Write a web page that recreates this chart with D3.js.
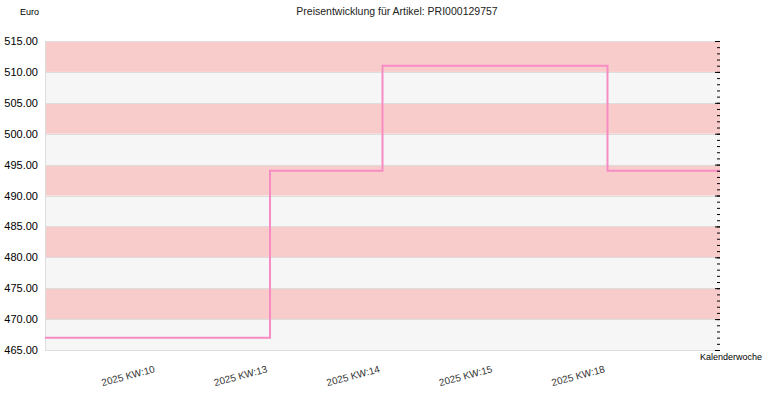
<!DOCTYPE html>
<html>
<head>
<meta charset="utf-8">
<script src="https://cdn.jsdelivr.net/npm/d3@7"></script>
<style>
  body { margin: 0; background: #fff; }
  text { font-family: "Liberation Sans", Arial, sans-serif; }
</style>
</head>
<body>
<div id="chart"></div>
<script>
// data
var weeks = ["2025 KW:10", "2025 KW:13", "2025 KW:14", "2025 KW:15", "2025 KW:18"];
var prices = [467, 494, 511, 511, 494];
var yTicks = [465, 470, 475, 480, 485, 490, 495, 500, 505, 510, 515];

var svgWidth = 770;
var svgHeight = 400;

var margin = { top: 41, right: 50, bottom: 50, left: 45 };
var width = svgWidth - margin.left - margin.right;
var height = svgHeight - margin.top - margin.bottom;

var svg = d3.select("#chart")
  .append("svg")
  .attr("width", svgWidth)
  .attr("height", svgHeight);

var chartGroup = svg.append("g")
  .attr("transform", `translate(${margin.left}, ${margin.top})`);

// one slot before the first week and one after the last
var xScale = d3.scaleLinear()
  .domain([0, weeks.length + 1])
  .range([0, width]);

var yScale = d3.scaleLinear()
  .domain([465, 515])
  .range([height, 0]);

// alternating bands
var bands = d3.pairs(yTicks);
chartGroup.selectAll(".band")
  .data(bands)
  .enter()
  .append("rect")
  .attr("class", "band")
  .attr("x", 0)
  .attr("width", width)
  .attr("y", d => yScale(d[1]))
  .attr("height", d => yScale(d[0]) - yScale(d[1]))
  .attr("fill", (d, i) => i % 2 === 0 ? "#f6f6f6" : "#f9cccc");

// grid lines
chartGroup.selectAll(".grid")
  .data(yTicks)
  .enter()
  .append("line")
  .attr("x1", 0)
  .attr("x2", width)
  .attr("y1", d => Math.round(yScale(d)) + 0.5)
  .attr("y2", d => Math.round(yScale(d)) + 0.5)
  .attr("stroke", "#dddddd")
  .attr("stroke-width", 1);

// left border
chartGroup.append("line")
  .attr("x1", 0.5).attr("x2", 0.5)
  .attr("y1", 0).attr("y2", height)
  .attr("stroke", "#dddddd");

// step line
var points = [[0, prices[0]]];
prices.forEach((p, i) => points.push([i + 1, p]));
points.push([weeks.length + 1, prices[prices.length - 1]]);

var line = d3.line()
  .x(d => xScale(d[0]))
  .y(d => yScale(d[1]))
  .curve(d3.curveStepAfter);

chartGroup.append("path")
  .datum(points)
  .attr("d", line)
  .attr("fill", "none")
  .attr("stroke", "#f78cc4")
  .attr("stroke-width", 2);

// left axis labels
var leftAxis = d3.axisLeft(yScale)
  .tickValues(yTicks)
  .tickFormat(d3.format(".2f"))
  .tickSize(0)
  .tickPadding(7);

var yAxis = chartGroup.append("g").call(leftAxis);
yAxis.select(".domain").remove();
yAxis.selectAll("text")
  .attr("font-size", "11px")
  .attr("fill", "#000")
  .attr("font-family", "Liberation Sans, Arial, sans-serif");

// right side ticks (inside)
var rightMinor = d3.axisLeft(yScale)
  .ticks(50)
  .tickSize(3)
  .tickFormat("");
var rightMajor = d3.axisLeft(yScale)
  .tickValues(yTicks)
  .tickSize(5)
  .tickFormat("");

var rMinor = chartGroup.append("g")
  .attr("transform", `translate(${width}, 0)`)
  .call(rightMinor);
rMinor.select(".domain").remove();
rMinor.selectAll("line").attr("stroke", "#000");

var rMajor = chartGroup.append("g")
  .attr("transform", `translate(${width}, 0)`)
  .call(rightMajor);
rMajor.select(".domain").remove();
rMajor.selectAll("line").attr("stroke", "#000");

// x axis labels
var xAxisGroup = chartGroup.append("g")
  .attr("transform", `translate(0, ${height})`);

xAxisGroup.selectAll("text")
  .data(weeks)
  .enter()
  .append("text")
  .attr("transform", (d, i) => `translate(${xScale(i + 1) - 2}, 22) rotate(-15)`)
  .attr("text-anchor", "end")
  .attr("font-size", "10px")
  .attr("fill", "#333")
  .text(d => d);

// titles
svg.append("text")
  .attr("x", 397)
  .attr("y", 15)
  .attr("text-anchor", "middle")
  .attr("font-size", "10.5px")
  .attr("fill", "#222")
  .text("Preisentwicklung für Artikel: PRI000129757");

svg.append("text")
  .attr("x", 20)
  .attr("y", 15)
  .attr("font-size", "9px")
  .attr("fill", "#000")
  .text("Euro");

svg.append("text")
  .attr("x", 762)
  .attr("y", 360)
  .attr("text-anchor", "end")
  .attr("font-size", "9px")
  .attr("fill", "#000")
  .text("Kalenderwoche");
</script>
</body>
</html>
